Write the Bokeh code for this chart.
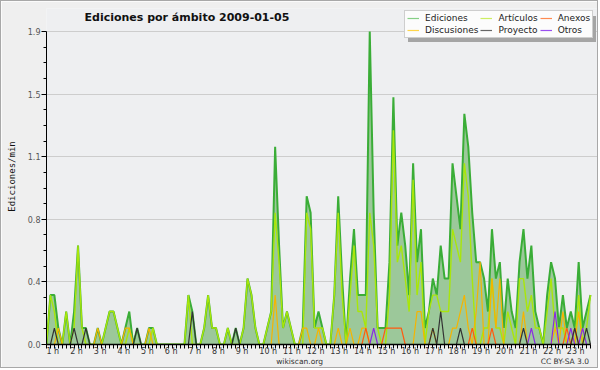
from bokeh.plotting import figure
from bokeh.models import (FixedTicker, Legend, LegendItem, Range1d, LinearAxis, Label,
                          BoxAnnotation, ColumnDataSource, PrintfTickFormatter,
                          CustomJSTickFormatter)
from bokeh.embed import file_html
from bokeh.resources import INLINE

# ---------------- data (10-minute bins, edits per minute) ----------------
bins = list(range(139))

ediciones = [0.0, 0.3, 0.3, 0.1, 0.0, 0.2, 0.0, 0.2, 0.6, 0.1,
             0.1, 0.0, 0.0, 0.1, 0.0, 0.1, 0.2, 0.2, 0.1, 0.0,
             0.1, 0.2, 0.0, 0.1, 0.0, 0.0, 0.1, 0.1, 0.0, 0.0,
             0.0, 0.0, 0.0, 0.0, 0.0, 0.0, 0.3, 0.2, 0.0, 0.0,
             0.1, 0.3, 0.1, 0.1, 0.0, 0.0, 0.1, 0.0, 0.1, 0.0,
             0.1, 0.4, 0.3, 0.1, 0.0, 0.0, 0.1, 0.2, 1.2, 0.6,
             0.1, 0.2, 0.1, 0.0, 0.0, 0.1, 0.9, 0.8, 0.1, 0.2,
             0.1, 0.0, 0.0, 0.3, 0.9, 0.4, 0.0, 0.4, 0.7, 0.3,
             0.3, 0.3, 1.9, 0.8, 0.1, 0.1, 0.1, 0.5, 1.5, 0.6,
             0.8, 0.6, 0.3, 1.1, 0.5, 0.7, 0.1, 0.2, 0.4, 0.3,
             0.6, 0.4, 0.4, 1.1, 0.9, 0.7, 1.4, 1.2, 0.8, 0.5,
             0.5, 0.4, 0.2, 0.7, 0.4, 0.5, 0.1, 0.4, 0.2, 0.1,
             0.5, 0.7, 0.4, 0.6, 0.2, 0.1, 0.0, 0.3, 0.5, 0.4,
             0.1, 0.3, 0.1, 0.2, 0.1, 0.5, 0.1, 0.2, 0.3]

articulos = [0.0, 0.3, 0.2, 0.0, 0.0, 0.2, 0.0, 0.1, 0.6, 0.1,
             0.0, 0.0, 0.0, 0.0, 0.0, 0.1, 0.2, 0.2, 0.1, 0.0,
             0.0, 0.1, 0.0, 0.0, 0.0, 0.0, 0.0, 0.1, 0.0, 0.0,
             0.0, 0.0, 0.0, 0.0, 0.0, 0.0, 0.3, 0.0, 0.0, 0.0,
             0.1, 0.3, 0.1, 0.1, 0.0, 0.0, 0.1, 0.0, 0.0, 0.0,
             0.1, 0.4, 0.3, 0.1, 0.0, 0.0, 0.1, 0.2, 0.8, 0.5,
             0.1, 0.2, 0.1, 0.0, 0.0, 0.0, 0.8, 0.7, 0.1, 0.1,
             0.1, 0.0, 0.0, 0.3, 0.8, 0.3, 0.0, 0.3, 0.6, 0.2,
             0.2, 0.1, 0.8, 0.6, 0.1, 0.0, 0.0, 0.3, 1.3, 0.5,
             0.6, 0.4, 0.2, 1.0, 0.3, 0.5, 0.0, 0.2, 0.3, 0.3,
             0.2, 0.2, 0.2, 0.7, 0.6, 0.5, 1.1, 0.9, 0.4, 0.0,
             0.0, 0.1, 0.1, 0.4, 0.1, 0.1, 0.0, 0.2, 0.1, 0.0,
             0.4, 0.4, 0.2, 0.3, 0.1, 0.1, 0.0, 0.2, 0.4, 0.1,
             0.1, 0.1, 0.0, 0.0, 0.0, 0.3, 0.0, 0.1, 0.3]

discusiones = [0.0, 0.0, 0.0, 0.1, 0.0, 0.0, 0.0, 0.0, 0.0, 0.0,
               0.0, 0.0, 0.0, 0.1, 0.0, 0.0, 0.0, 0.0, 0.0, 0.0,
               0.1, 0.1, 0.0, 0.0, 0.0, 0.0, 0.1, 0.0, 0.0, 0.0,
               0.0, 0.0, 0.0, 0.0, 0.0, 0.0, 0.0, 0.0, 0.0, 0.0,
               0.0, 0.0, 0.0, 0.0, 0.0, 0.0, 0.0, 0.0, 0.0, 0.0,
               0.0, 0.0, 0.0, 0.0, 0.0, 0.0, 0.0, 0.0, 0.3, 0.0,
               0.0, 0.0, 0.0, 0.0, 0.0, 0.1, 0.1, 0.0, 0.0, 0.1,
               0.0, 0.0, 0.0, 0.0, 0.1, 0.0, 0.0, 0.1, 0.0, 0.0,
               0.1, 0.1, 0.0, 0.0, 0.0, 0.0, 0.0, 0.0, 0.0, 0.0,
               0.0, 0.0, 0.0, 0.0, 0.2, 0.2, 0.0, 0.0, 0.1, 0.0,
               0.0, 0.0, 0.0, 0.1, 0.1, 0.2, 0.3, 0.1, 0.0, 0.2,
               0.5, 0.0, 0.0, 0.4, 0.1, 0.4, 0.0, 0.0, 0.0, 0.0,
               0.0, 0.2, 0.0, 0.0, 0.0, 0.0, 0.0, 0.0, 0.0, 0.1,
               0.0, 0.2, 0.0, 0.0, 0.0, 0.2, 0.0, 0.0, 0.0]

proyecto = [0.0, 0.0, 0.1, 0.0, 0.0, 0.0, 0.0, 0.1, 0.0, 0.0,
            0.1, 0.0, 0.0, 0.0, 0.0, 0.0, 0.0, 0.0, 0.0, 0.0,
            0.0, 0.0, 0.0, 0.1, 0.0, 0.0, 0.0, 0.0, 0.0, 0.0,
            0.0, 0.0, 0.0, 0.0, 0.0, 0.0, 0.0, 0.2, 0.0, 0.0,
            0.0, 0.0, 0.0, 0.0, 0.0, 0.0, 0.0, 0.0, 0.1, 0.0,
            0.0, 0.0, 0.0, 0.0, 0.0, 0.0, 0.0, 0.0, 0.0, 0.0,
            0.0, 0.0, 0.0, 0.0, 0.0, 0.0, 0.0, 0.0, 0.0, 0.0,
            0.0, 0.0, 0.0, 0.0, 0.0, 0.0, 0.0, 0.0, 0.0, 0.0,
            0.0, 0.0, 0.0, 0.0, 0.0, 0.0, 0.0, 0.0, 0.0, 0.0,
            0.0, 0.0, 0.0, 0.0, 0.0, 0.0, 0.0, 0.0, 0.1, 0.0,
            0.2, 0.0, 0.0, 0.0, 0.0, 0.1, 0.0, 0.0, 0.0, 0.0,
            0.0, 0.0, 0.0, 0.0, 0.0, 0.0, 0.0, 0.0, 0.0, 0.0,
            0.0, 0.1, 0.0, 0.0, 0.0, 0.0, 0.0, 0.0, 0.0, 0.0,
            0.0, 0.0, 0.0, 0.0, 0.1, 0.0, 0.0, 0.1, 0.0]

anexos = [0.0, 0.0, 0.0, 0.0, 0.0, 0.0, 0.0, 0.0, 0.0, 0.0,
          0.0, 0.0, 0.0, 0.0, 0.0, 0.0, 0.0, 0.0, 0.0, 0.0,
          0.0, 0.0, 0.0, 0.0, 0.0, 0.0, 0.0, 0.0, 0.0, 0.0,
          0.0, 0.0, 0.0, 0.0, 0.0, 0.0, 0.0, 0.0, 0.0, 0.0,
          0.0, 0.0, 0.0, 0.0, 0.0, 0.0, 0.0, 0.0, 0.0, 0.0,
          0.0, 0.0, 0.0, 0.0, 0.0, 0.0, 0.0, 0.0, 0.0, 0.0,
          0.0, 0.0, 0.0, 0.0, 0.0, 0.0, 0.0, 0.0, 0.0, 0.0,
          0.0, 0.0, 0.0, 0.0, 0.0, 0.0, 0.0, 0.0, 0.0, 0.0,
          0.0, 0.1, 0.0, 0.0, 0.0, 0.0, 0.1, 0.1, 0.1, 0.1,
          0.1, 0.0, 0.0, 0.0, 0.0, 0.0, 0.0, 0.0, 0.0, 0.0,
          0.0, 0.0, 0.0, 0.0, 0.0, 0.0, 0.0, 0.0, 0.1, 0.0,
          0.0, 0.0, 0.0, 0.1, 0.0, 0.0, 0.0, 0.0, 0.0, 0.0,
          0.0, 0.0, 0.0, 0.0, 0.0, 0.0, 0.0, 0.0, 0.0, 0.0,
          0.0, 0.0, 0.1, 0.0, 0.1, 0.0, 0.0, 0.0, 0.0]

otros = [0.0, 0.0, 0.0, 0.0, 0.0, 0.0, 0.0, 0.0, 0.0, 0.0,
         0.0, 0.0, 0.0, 0.0, 0.0, 0.0, 0.0, 0.0, 0.0, 0.0,
         0.0, 0.0, 0.0, 0.0, 0.0, 0.0, 0.0, 0.0, 0.0, 0.0,
         0.0, 0.0, 0.0, 0.0, 0.0, 0.0, 0.0, 0.0, 0.0, 0.0,
         0.0, 0.0, 0.0, 0.0, 0.0, 0.0, 0.0, 0.0, 0.0, 0.0,
         0.0, 0.0, 0.0, 0.0, 0.0, 0.0, 0.0, 0.0, 0.0, 0.0,
         0.0, 0.0, 0.0, 0.0, 0.0, 0.0, 0.0, 0.0, 0.0, 0.0,
         0.0, 0.0, 0.0, 0.0, 0.0, 0.0, 0.0, 0.0, 0.0, 0.0,
         0.0, 0.0, 0.0, 0.1, 0.0, 0.0, 0.0, 0.0, 0.0, 0.0,
         0.0, 0.0, 0.0, 0.0, 0.0, 0.0, 0.0, 0.0, 0.0, 0.0,
         0.0, 0.0, 0.0, 0.0, 0.0, 0.0, 0.0, 0.0, 0.0, 0.0,
         0.0, 0.0, 0.0, 0.0, 0.0, 0.0, 0.0, 0.0, 0.0, 0.0,
         0.0, 0.0, 0.0, 0.1, 0.0, 0.0, 0.0, 0.0, 0.0, 0.2,
         0.0, 0.0, 0.0, 0.1, 0.0, 0.0, 0.1, 0.0, 0.0]

hour_labels = ["1 h", "2 h", "3 h", "4 h", "5 h", "6 h", "7 h", "8 h", "9 h",
               "10 h", "11 h", "12 h", "13 h", "14 h", "15 h", "16 h", "17 h",
               "18 h", "19 h", "20 h", "21 h", "22 h", "23 h"]
hour_start_bins = [0, 6, 12, 18, 24, 30, 36, 42, 48, 54, 60, 66, 72, 78, 84,
                   90, 96, 102, 108, 114, 120, 126, 132]

y_ticks = [0.0, 0.38, 0.76, 1.14, 1.52, 1.9]

# legend order: row 1 then row 2
series_names = ["Ediciones", "Artículos", "Anexos", "Discusiones", "Proyecto", "Otros"]
legend_colors = ["#86cf86", "#cdee62", "#ff8a50", "#ffd54a", "#666666", "#9a4ff0"]

title_text = "Ediciones por ámbito  2009-01-05"
footer_texts = ["wikiscan.org", "CC BY-SA 3.0"]
footer_pos = [64.2, 131.5]   # label centres, in bin units

# ---------------- layout ----------------
W, H = 598, 368                  # + 1px css border on each side -> 600 x 370
BL, BR, BT, BB = 45, 1, 7, 25
frame_w = W - BL - BR
frame_h = H - BT - BB
data_w_px = 544                  # pixels spanned by the data (bin 0 .. last bin)
data_h_px = 313                  # pixels spanned by 0 .. 1.9
px_per_bin = data_w_px / (bins[-1] - bins[0])
x_end = bins[0] + frame_w / px_per_bin
y_end = y_ticks[-1] * frame_h / data_h_px

p = figure(width=W, height=H, output_backend="svg", toolbar_location=None,
           title=None,
           x_range=Range1d(bins[0], x_end), y_range=Range1d(0, y_end),
           min_border_left=BL, min_border_right=BR, min_border_top=BT,
           min_border_bottom=BB, background_fill_color="#eeeff1",
           border_fill_color="#efefef", outline_line_color=None)
p.styles = {"border": "1px solid #a8a8a8"}

src = ColumnDataSource(dict(x=bins, ed=ediciones, art=articulos, disc=discusiones,
                            proy=proyecto, anex=anexos, otr=otros))

p.varea(x="x", y1=0, y2="ed", source=src, fill_color="#9cc89a", fill_alpha=1.0)
p.line("x", "ed", source=src, line_color="#3aad37", line_width=2)
p.line("x", "art", source=src, line_color="#a9e60a", line_width=1.4)
p.line("x", "disc", source=src, line_color="#f6b400", line_width=1.2)
p.line("x", "anex", source=src, line_color="#ff5a10", line_width=1.2)
p.line("x", "otr", source=src, line_color="#8a2be2", line_width=1.2)
p.line("x", "proy", source=src, line_color="#333333", line_width=1.2)

# ---------------- axes ----------------
step = y_ticks[1] - y_ticks[0]
y_minor = [t + k * step / 4 for t in y_ticks[:-1] for k in (1, 2, 3)]
p.yaxis.ticker = FixedTicker(ticks=y_ticks, minor_ticks=y_minor)
p.yaxis.bounds = (y_ticks[0], y_ticks[-1])
p.yaxis.formatter = PrintfTickFormatter(format="%.1f")
p.yaxis.axis_label = "Ediciones/min"
p.yaxis.axis_label_text_font = "DejaVu Sans Mono"
p.yaxis.axis_label_text_font_size = "9px"
p.yaxis.axis_label_text_font_style = "normal"
p.yaxis.axis_label_text_color = "#111111"
p.yaxis.axis_label_standoff = 8
p.yaxis.major_label_text_font = "DejaVu Sans"
p.yaxis.major_label_text_font_size = "8px"
p.yaxis.major_label_text_color = "#555555"
p.yaxis.major_label_standoff = 1
p.yaxis.major_tick_out = 5
p.yaxis.major_tick_in = 0
p.yaxis.minor_tick_out = 3
p.yaxis.minor_tick_in = 0
p.yaxis.axis_line_color = "black"
p.yaxis.major_tick_line_color = "black"
p.yaxis.minor_tick_line_color = "black"

# hour labels start at the hour's tick: shift each label's anchor by half its width
label_w = [5.1 * (len(s) - 2) + 7.6 for s in hour_labels]
x_major = [b + (w / 2) / px_per_bin for b, w in zip(hour_start_bins, label_w)]
p.xaxis.ticker = FixedTicker(ticks=x_major, minor_ticks=bins)
p.xaxis.bounds = (bins[0], bins[-1])
p.xaxis.formatter = CustomJSTickFormatter(args=dict(labels=hour_labels),
                                          code="return labels[index];")
p.xaxis.major_tick_line_color = None
p.xaxis.major_tick_out = 0
p.xaxis.major_tick_in = 0
p.xaxis.minor_tick_out = 4
p.xaxis.minor_tick_in = 0
p.xaxis.minor_tick_line_color = "black"
p.xaxis.axis_line_color = "black"
p.xaxis.axis_line_width = 1.5
p.xaxis.major_label_standoff = -2
p.xaxis.major_label_text_font = "DejaVu Sans"
p.xaxis.major_label_text_font_size = "8px"
p.xaxis.major_label_text_color = "#333333"

# footer line (site name and licence) as a tick-label-only axis
footer = LinearAxis(ticker=FixedTicker(ticks=footer_pos, minor_ticks=[]),
                    formatter=CustomJSTickFormatter(args=dict(labels=footer_texts),
                                                    code="return labels[index];"),
                    axis_line_color=None, major_tick_line_color=None,
                    minor_tick_line_color=None, major_tick_out=0, major_tick_in=0,
                    minor_tick_out=0, minor_tick_in=0, major_label_standoff=-2,
                    major_label_text_font="DejaVu Sans",
                    major_label_text_font_size="7.5px",
                    major_label_text_color="#333333")
p.add_layout(footer, "below")

p.xgrid.visible = False
p.ygrid.ticker = FixedTicker(ticks=y_ticks)
p.ygrid.bounds = (bins[0], bins[-1])
p.ygrid.grid_line_color = "#cdcdcd"
p.ygrid.grid_line_width = 1

# ---------------- title (drawn inside the frame's top strip) ----------------
p.add_layout(Label(x=bins[0], y=y_ticks[-1], x_offset=38, y_offset=14,
                   text=title_text, text_align="left", text_baseline="middle",
                   text_font="DejaVu Sans", text_font_size="11px",
                   text_font_style="bold", text_color="#111111"))

# ---------------- legend with drop shadow ----------------
LEG_X, LEG_Y, LEG_W, LEG_H, SH = 358, 306, 188, 26, 3.5
p.add_layout(BoxAnnotation(left=LEG_X + SH, right=LEG_X + LEG_W + SH,
                           bottom=LEG_Y - SH, top=LEG_Y + LEG_H - SH,
                           left_units="screen", right_units="screen",
                           top_units="screen", bottom_units="screen",
                           fill_color="#a5a5a5", fill_alpha=1.0, line_color=None))

nan = float("nan")
dummies = [p.line(x=[nan], y=[nan], line_color=c, line_width=1.2) for c in legend_colors]
items = [LegendItem(label=n, renderers=[r]) for n, r in zip(series_names, dummies)]
legend = Legend(items=items, location=(LEG_X, LEG_Y), orientation="horizontal", ncols=3,
                glyph_width=12, glyph_height=8, label_height=8, label_standoff=6,
                spacing=2, padding=2, margin=0, label_text_font="DejaVu Sans",
                label_text_font_size="9px", label_text_baseline="middle",
                background_fill_color="#fcfcfc", background_fill_alpha=1.0,
                border_line_color="#a0a0a0", label_text_color="#222222")
p.add_layout(legend, "center")

open("out.html", "w").write(file_html(p, INLINE))
